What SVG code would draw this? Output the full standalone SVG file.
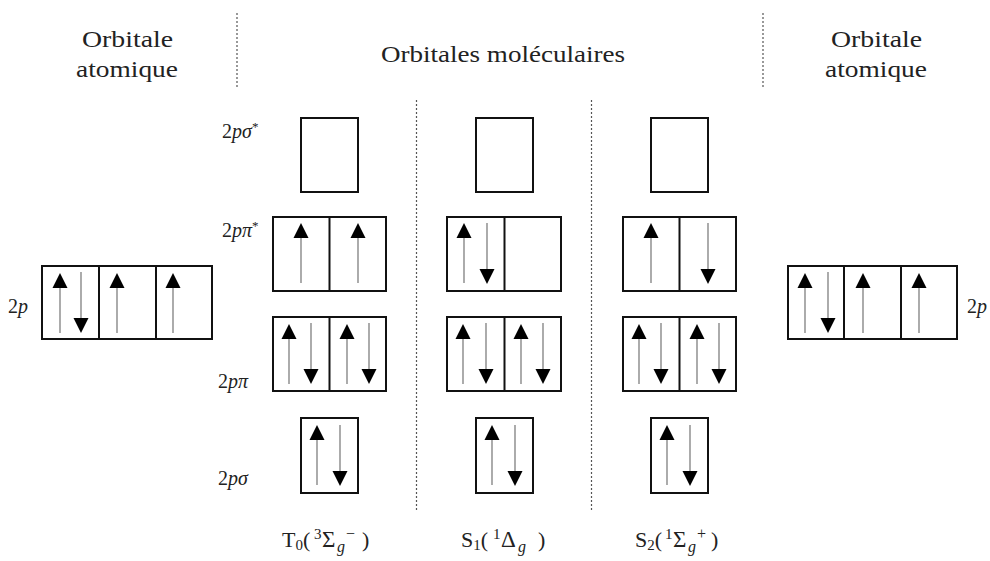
<svg xmlns="http://www.w3.org/2000/svg" xmlns:xlink="http://www.w3.org/1999/xlink" width="990" height="561" viewBox="0 0 990 561">
<style>
.box{fill:#fff;stroke:#111;stroke-width:2}
.div{stroke:#111;stroke-width:2}
.sep{stroke:#555;stroke-width:1.2;stroke-dasharray:2 2;fill:none}
.al{stroke:#888;stroke-width:1.4}
.ah{fill:#000}
.t{font-family:"Liberation Serif","Times New Roman",serif;fill:#222}
.title{font-size:23px}
.lvl{font-size:20px}
.st{font-size:22px}
.it{font-style:italic}
.big{font-size:23px}
</style>
<defs>
<g id="up"><line class="al" x1="0" y1="14" x2="0" y2="60"/><polygon class="ah" points="0,0 -7.5,15 7.5,15"/></g>
<g id="dn"><line class="al" x1="0" y1="0" x2="0" y2="47"/><polygon class="ah" points="-7.5,46 7.5,46 0,61"/></g>
</defs>
<rect width="990" height="561" fill="#fff"/>

<g id="separators">
<line class="sep" x1="237" y1="13" x2="237" y2="87"/>
<line class="sep" x1="763" y1="13" x2="763" y2="87"/>
<line class="sep" x1="416.5" y1="100" x2="416.5" y2="510"/>
<line class="sep" x1="591.5" y1="100" x2="591.5" y2="510"/>
</g>

<g id="titles">
<text class="t title" x="127.5" y="47" text-anchor="middle" textLength="91" lengthAdjust="spacingAndGlyphs">Orbitale</text>
<text class="t title" x="127" y="77" text-anchor="middle" textLength="102" lengthAdjust="spacingAndGlyphs">atomique</text>
<text class="t title" x="503" y="62" text-anchor="middle" textLength="244" lengthAdjust="spacingAndGlyphs">Orbitales moléculaires</text>
<text class="t title" x="876.5" y="47" text-anchor="middle" textLength="91" lengthAdjust="spacingAndGlyphs">Orbitale</text>
<text class="t title" x="876" y="77" text-anchor="middle" textLength="102" lengthAdjust="spacingAndGlyphs">atomique</text>
</g>

<g id="level-labels">
<text class="t lvl" x="8" y="313">2<tspan class="it">p</tspan></text>
<text class="t lvl" x="967" y="313">2<tspan class="it">p</tspan></text>
<text class="t lvl" x="222" y="138">2<tspan class="it">pσ</tspan><tspan font-size="13" dy="-7">*</tspan></text>
<text class="t lvl" x="222" y="237">2<tspan class="it">pπ</tspan><tspan font-size="13" dy="-7">*</tspan></text>
<text class="t lvl" x="218" y="388">2<tspan class="it">pπ</tspan></text>
<text class="t lvl" x="218" y="485">2<tspan class="it">pσ</tspan></text>
</g>

<g id="atomic-left">
<rect class="box" x="42" y="266" width="170" height="73"/>
<line class="div" x1="99" y1="266" x2="99" y2="339"/>
<line class="div" x1="156" y1="266" x2="156" y2="339"/>
<use xlink:href="#up" x="60" y="273"/>
<use xlink:href="#dn" x="81" y="272"/>
<use xlink:href="#up" x="117" y="273"/>
<use xlink:href="#up" x="173" y="273"/>
</g>

<g id="atomic-right">
<rect class="box" x="788" y="266" width="169" height="73"/>
<line class="div" x1="844" y1="266" x2="844" y2="339"/>
<line class="div" x1="901" y1="266" x2="901" y2="339"/>
<use xlink:href="#up" x="805" y="273"/>
<use xlink:href="#dn" x="828" y="272"/>
<use xlink:href="#up" x="863" y="273"/>
<use xlink:href="#up" x="919" y="273"/>
</g>

<g id="T0-sigma-star"><rect class="box" x="301" y="118" width="57" height="74"/></g>
<g id="T0-pi-star">
<rect class="box" x="273" y="217" width="113" height="74"/>
<line class="div" x1="329.5" y1="217" x2="329.5" y2="291"/>
<use xlink:href="#up" x="301" y="223"/>
<use xlink:href="#up" x="358" y="223"/>
</g>
<g id="T0-pi">
<rect class="box" x="273" y="317" width="113" height="74"/>
<line class="div" x1="329.5" y1="317" x2="329.5" y2="391"/>
<use xlink:href="#up" x="289" y="324"/>
<use xlink:href="#dn" x="311" y="323"/>
<use xlink:href="#up" x="347" y="324"/>
<use xlink:href="#dn" x="369" y="323"/>
</g>
<g id="T0-sigma">
<rect class="box" x="301" y="418" width="57" height="75"/>
<use xlink:href="#up" x="317" y="425"/>
<use xlink:href="#dn" x="340" y="425"/>
</g>

<g id="S1-sigma-star"><rect class="box" x="476" y="118" width="57" height="74"/></g>
<g id="S1-pi-star">
<rect class="box" x="447" y="217" width="114" height="74"/>
<line class="div" x1="504.5" y1="217" x2="504.5" y2="291"/>
<use xlink:href="#up" x="464" y="223"/>
<use xlink:href="#dn" x="487" y="223"/>
</g>
<g id="S1-pi">
<rect class="box" x="447" y="317" width="114" height="74"/>
<line class="div" x1="504.5" y1="317" x2="504.5" y2="391"/>
<use xlink:href="#up" x="463" y="324"/>
<use xlink:href="#dn" x="486" y="323"/>
<use xlink:href="#up" x="521" y="324"/>
<use xlink:href="#dn" x="543" y="323"/>
</g>
<g id="S1-sigma">
<rect class="box" x="476" y="418" width="57" height="75"/>
<use xlink:href="#up" x="492" y="425"/>
<use xlink:href="#dn" x="515" y="425"/>
</g>

<g id="S2-sigma-star"><rect class="box" x="651" y="118" width="57" height="74"/></g>
<g id="S2-pi-star">
<rect class="box" x="623" y="217" width="113" height="74"/>
<line class="div" x1="679.5" y1="217" x2="679.5" y2="291"/>
<use xlink:href="#up" x="651" y="223"/>
<use xlink:href="#dn" x="708" y="223"/>
</g>
<g id="S2-pi">
<rect class="box" x="623" y="317" width="113" height="74"/>
<line class="div" x1="679.5" y1="317" x2="679.5" y2="391"/>
<use xlink:href="#up" x="639" y="324"/>
<use xlink:href="#dn" x="661" y="323"/>
<use xlink:href="#up" x="697" y="324"/>
<use xlink:href="#dn" x="719" y="323"/>
</g>
<g id="S2-sigma">
<rect class="box" x="651" y="418" width="57" height="75"/>
<use xlink:href="#up" x="667" y="425"/>
<use xlink:href="#dn" x="690" y="425"/>
</g>

<g id="state-labels">
<text class="t st" x="282" y="547">T<tspan font-size="15" dy="3">0</tspan><tspan dy="-3">(</tspan><tspan font-size="15" x="314" dy="-8">3</tspan><tspan class="big" x="322" dy="8">Σ</tspan><tspan class="it" font-size="16" x="337" dy="5">g</tspan><tspan font-size="16" x="346" dy="-13">−</tspan><tspan x="362" dy="8">)</tspan></text>
<text class="t st" x="461" y="547">S<tspan font-size="15" dy="3">1</tspan><tspan dy="-3">(</tspan><tspan font-size="15" x="493" dy="-8">1</tspan><tspan class="big" x="501" dy="8">Δ</tspan><tspan class="it" font-size="16" x="518" dy="5">g</tspan><tspan x="538" dy="-5">)</tspan></text>
<text class="t st" x="635" y="547">S<tspan font-size="15" dy="3">2</tspan><tspan dy="-3">(</tspan><tspan font-size="15" x="665" dy="-8">1</tspan><tspan class="big" x="673" dy="8">Σ</tspan><tspan class="it" font-size="16" x="688" dy="5">g</tspan><tspan font-size="16" x="697" dy="-13">+</tspan><tspan x="711" dy="8">)</tspan></text>
</g>
</svg>
